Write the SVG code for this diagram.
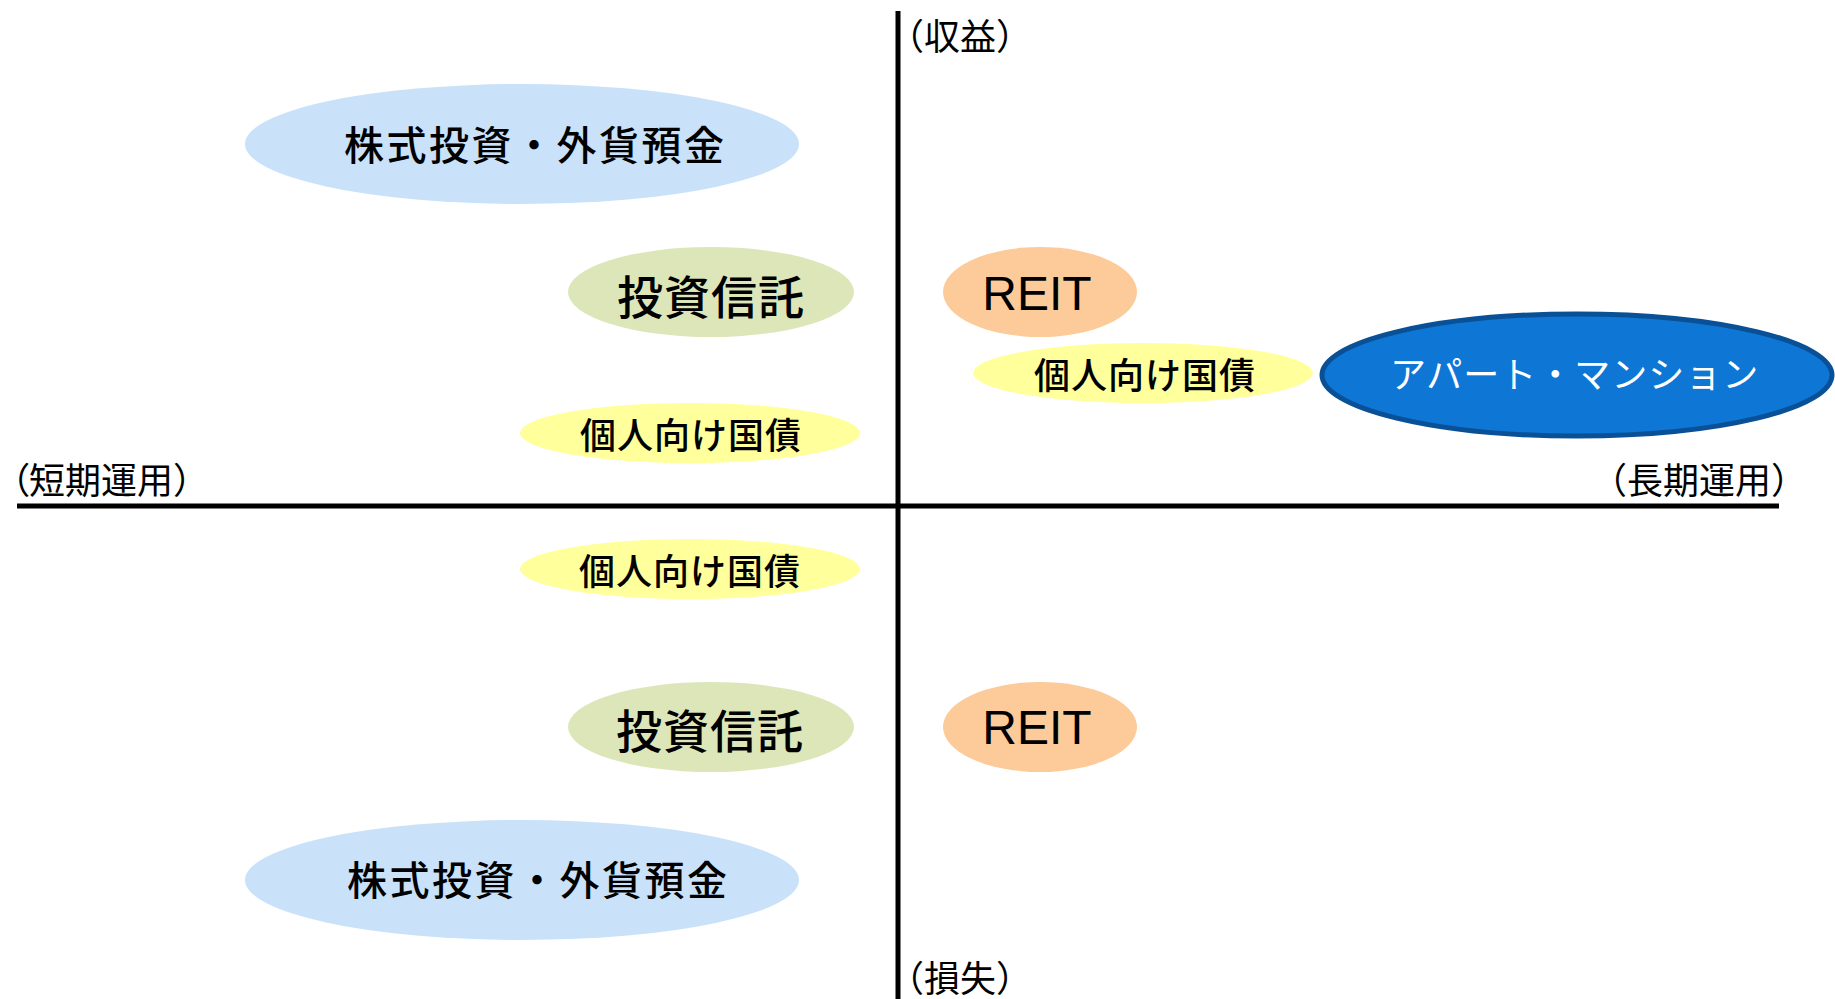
<svg xmlns="http://www.w3.org/2000/svg" width="1835" height="999" viewBox="0 0 1835 999">
<style>
.t{font-family:"Noto Sans CJK JP","Noto Sans CJK SC",sans-serif;fill:#000}
.ax{font-size:36px}
.lbl{font-family:"Noto Sans CJK JP","Noto Sans CJK SC",sans-serif;fill:#000;font-weight:500}
.reit{font-family:"Liberation Sans",Arial,sans-serif;font-size:48px;fill:#000}
.blue{fill:#C9E2F9}
.green{fill:#DCE6B9}
.orange{fill:#FDCB99}
.yellow{fill:#FFFF9C}
.palt{font-feature-settings:"palt"}
</style>
<rect width="1835" height="999" fill="#fff"/>
<g id="axes" stroke="#000" stroke-width="5">
<line x1="898" y1="11" x2="898" y2="999"/>
<line x1="17" y1="506" x2="1779" y2="506"/>
</g>
<g id="axis-labels">
<text class="t ax" x="888" y="50">（収益）</text>
<text class="t ax" x="888" y="992">（損失）</text>
<text class="t ax" x="11" y="494"><tspan class="palt">（</tspan>短期運用）</text>
<text class="t ax" x="1591" y="494">（長期運用）</text>
</g>
<g id="node-stock-up">
<ellipse class="blue" cx="522" cy="144" rx="277" ry="60"/>
<text class="lbl" x="344" y="160" font-size="40" letter-spacing="2.5">株式投資・外貨預金</text>
</g>
<g id="node-fund-up">
<ellipse class="green" cx="711" cy="292" rx="143" ry="45"/>
<text class="lbl" x="617" y="314" font-size="46" letter-spacing="1">投資信託</text>
</g>
<g id="node-jgb-left-up">
<ellipse class="yellow" cx="690" cy="433" rx="170" ry="30"/>
<text class="lbl" x="580" y="449" font-size="36" letter-spacing="1">個人向け国債</text>
</g>
<g id="node-reit-up">
<ellipse class="orange" cx="1040" cy="292" rx="97" ry="45"/>
<text class="reit" x="1037" y="310" text-anchor="middle">REIT</text>
</g>
<g id="node-jgb-right">
<ellipse class="yellow" cx="1143" cy="373" rx="170" ry="30"/>
<text class="lbl" x="1034" y="389" font-size="36" letter-spacing="1">個人向け国債</text>
</g>
<g id="node-apartment">
<ellipse cx="1577" cy="375" rx="255" ry="61" fill="#0E76D5" stroke="#0A5096" stroke-width="5"/>
<text class="lbl" x="1390" y="388" font-size="36" letter-spacing="1" style="fill:#fff;font-weight:400">アパート・マンション</text>
</g>
<g id="node-jgb-left-down">
<ellipse class="yellow" cx="690" cy="569" rx="170" ry="30"/>
<text class="lbl" x="579" y="585" font-size="36" letter-spacing="1">個人向け国債</text>
</g>
<g id="node-fund-down">
<ellipse class="green" cx="711" cy="727" rx="143" ry="45"/>
<text class="lbl" x="616" y="748" font-size="46" letter-spacing="1">投資信託</text>
</g>
<g id="node-reit-down">
<ellipse class="orange" cx="1040" cy="727" rx="97" ry="45"/>
<text class="reit" x="1037" y="744" text-anchor="middle">REIT</text>
</g>
<g id="node-stock-down">
<ellipse class="blue" cx="522" cy="880" rx="277" ry="60"/>
<text class="lbl" x="347" y="895" font-size="40" letter-spacing="2.5">株式投資・外貨預金</text>
</g>
</svg>
